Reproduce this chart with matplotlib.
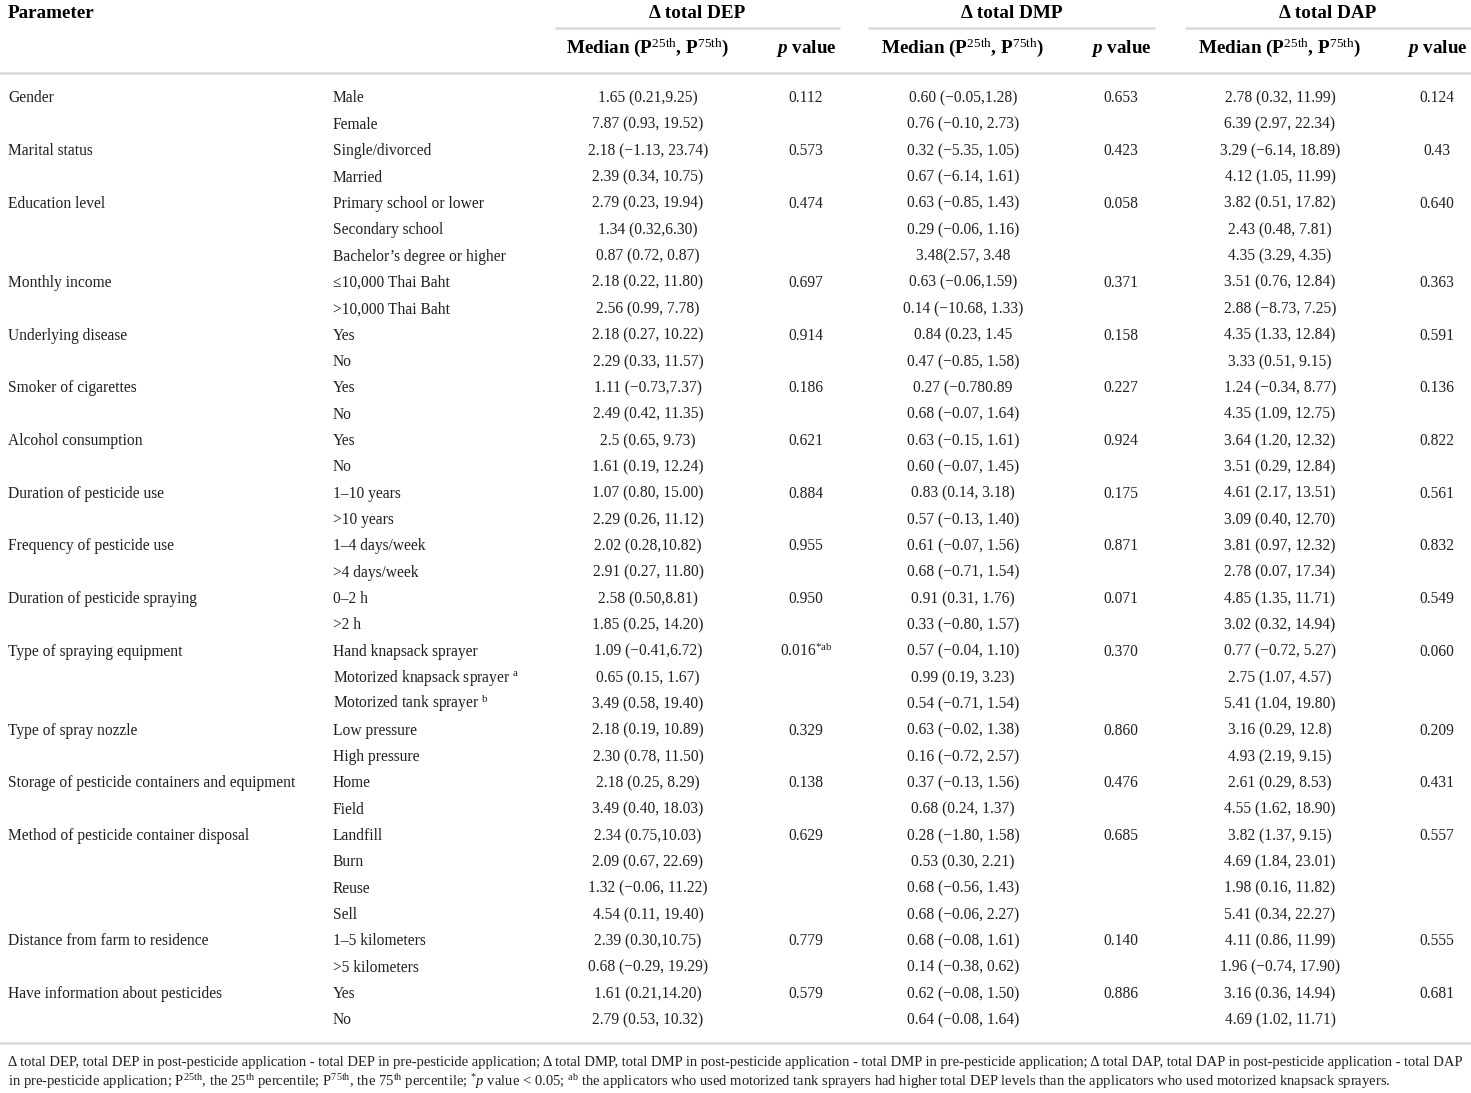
import matplotlib
matplotlib.use("Agg")
import matplotlib.pyplot as plt

plt.rcParams['font.family'] = ['Liberation Serif', 'DejaVu Serif']
plt.rcParams['mathtext.fontset'] = 'custom'
plt.rcParams['mathtext.rm'] = 'Liberation Serif'
plt.rcParams['mathtext.it'] = 'Liberation Serif:italic:bold'
plt.rcParams['mathtext.sf'] = 'Liberation Serif:italic'
plt.rcParams['mathtext.bf'] = 'Liberation Serif:bold'

# parameter group name, number of rows in group
params = [
    ("Gender", 2), ("Marital status", 2), ("Education level", 3),
    ("Monthly income", 2), ("Underlying disease", 2), ("Smoker of cigarettes", 2),
    ("Alcohol consumption", 2), ("Duration of pesticide use", 2),
    ("Frequency of pesticide use", 2), ("Duration of pesticide spraying", 2),
    ("Type of spraying equipment", 3), ("Type of spray nozzle", 2),
    ("Storage of pesticide containers and equipment", 2),
    ("Method of pesticide container disposal", 4),
    ("Distance from farm to residence", 2), ("Have information about pesticides", 2),
]

levels = [
    "Male", "Female", "Single/divorced", "Married",
    "Primary school or lower", "Secondary school", "Bachelor’s degree or higher",
    "≤10,000 Thai Baht", ">10,000 Thai Baht", "Yes", "No", "Yes", "No", "Yes", "No",
    "1–10 years", ">10 years", "1–4 days/week", ">4 days/week", "0–2 h", ">2 h",
    "Hand knapsack sprayer", "Motorized knapsack sprayer $^{\\mathrm{a}}$",
    "Motorized tank sprayer $^{\\mathrm{b}}$", "Low pressure", "High pressure",
    "Home", "Field", "Landfill", "Burn", "Reuse", "Sell",
    "1–5 kilometers", ">5 kilometers", "Yes", "No",
]

dep_median = [
    "1.65 (0.21,9.25)", "7.87 (0.93, 19.52)", "2.18 (−1.13, 23.74)", "2.39 (0.34, 10.75)",
    "2.79 (0.23, 19.94)", "1.34 (0.32,6.30)", "0.87 (0.72, 0.87)",
    "2.18 (0.22, 11.80)", "2.56 (0.99, 7.78)", "2.18 (0.27, 10.22)", "2.29 (0.33, 11.57)",
    "1.11 (−0.73,7.37)", "2.49 (0.42, 11.35)", "2.5 (0.65, 9.73)", "1.61 (0.19, 12.24)",
    "1.07 (0.80, 15.00)", "2.29 (0.26, 11.12)", "2.02 (0.28,10.82)", "2.91 (0.27, 11.80)",
    "2.58 (0.50,8.81)", "1.85 (0.25, 14.20)", "1.09 (−0.41,6.72)", "0.65 (0.15, 1.67)",
    "3.49 (0.58, 19.40)", "2.18 (0.19, 10.89)", "2.30 (0.78, 11.50)",
    "2.18 (0.25, 8.29)", "3.49 (0.40, 18.03)", "2.34 (0.75,10.03)", "2.09 (0.67, 22.69)",
    "1.32 (−0.06, 11.22)", "4.54 (0.11, 19.40)", "2.39 (0.30,10.75)", "0.68 (−0.29, 19.29)",
    "1.61 (0.21,14.20)", "2.79 (0.53, 10.32)",
]
dep_p = ["0.112", "0.573", "0.474", "0.697", "0.914", "0.186", "0.621", "0.884",
         "0.955", "0.950", "0.016$^{\\mathrm{*ab}}$", "0.329", "0.138", "0.629", "0.779", "0.579"]

dmp_median = [
    "0.60 (−0.05,1.28)", "0.76 (−0.10, 2.73)", "0.32 (−5.35, 1.05)", "0.67 (−6.14, 1.61)",
    "0.63 (−0.85, 1.43)", "0.29 (−0.06, 1.16)", "3.48(2.57, 3.48",
    "0.63 (−0.06,1.59)", "0.14 (−10.68, 1.33)", "0.84 (0.23, 1.45", "0.47 (−0.85, 1.58)",
    "0.27 (−0.780.89", "0.68 (−0.07, 1.64)", "0.63 (−0.15, 1.61)", "0.60 (−0.07, 1.45)",
    "0.83 (0.14, 3.18)", "0.57 (−0.13, 1.40)", "0.61 (−0.07, 1.56)", "0.68 (−0.71, 1.54)",
    "0.91 (0.31, 1.76)", "0.33 (−0.80, 1.57)", "0.57 (−0.04, 1.10)", "0.99 (0.19, 3.23)",
    "0.54 (−0.71, 1.54)", "0.63 (−0.02, 1.38)", "0.16 (−0.72, 2.57)",
    "0.37 (−0.13, 1.56)", "0.68 (0.24, 1.37)", "0.28 (−1.80, 1.58)", "0.53 (0.30, 2.21)",
    "0.68 (−0.56, 1.43)", "0.68 (−0.06, 2.27)", "0.68 (−0.08, 1.61)", "0.14 (−0.38, 0.62)",
    "0.62 (−0.08, 1.50)", "0.64 (−0.08, 1.64)",
]
dmp_p = ["0.653", "0.423", "0.058", "0.371", "0.158", "0.227", "0.924", "0.175",
         "0.871", "0.071", "0.370", "0.860", "0.476", "0.685", "0.140", "0.886"]

dap_median = [
    "2.78 (0.32, 11.99)", "6.39 (2.97, 22.34)", "3.29 (−6.14, 18.89)", "4.12 (1.05, 11.99)",
    "3.82 (0.51, 17.82)", "2.43 (0.48, 7.81)", "4.35 (3.29, 4.35)",
    "3.51 (0.76, 12.84)", "2.88 (−8.73, 7.25)", "4.35 (1.33, 12.84)", "3.33 (0.51, 9.15)",
    "1.24 (−0.34, 8.77)", "4.35 (1.09, 12.75)", "3.64 (1.20, 12.32)", "3.51 (0.29, 12.84)",
    "4.61 (2.17, 13.51)", "3.09 (0.40, 12.70)", "3.81 (0.97, 12.32)", "2.78 (0.07, 17.34)",
    "4.85 (1.35, 11.71)", "3.02 (0.32, 14.94)", "0.77 (−0.72, 5.27)", "2.75 (1.07, 4.57)",
    "5.41 (1.04, 19.80)", "3.16 (0.29, 12.8)", "4.93 (2.19, 9.15)",
    "2.61 (0.29, 8.53)", "4.55 (1.62, 18.90)", "3.82 (1.37, 9.15)", "4.69 (1.84, 23.01)",
    "1.98 (0.16, 11.82)", "5.41 (0.34, 22.27)", "4.11 (0.86, 11.99)", "1.96 (−0.74, 17.90)",
    "3.16 (0.36, 14.94)", "4.69 (1.02, 11.71)",
]
dap_p = ["0.124", "0.43", "0.640", "0.363", "0.591", "0.136", "0.822", "0.561",
         "0.832", "0.549", "0.060", "0.209", "0.431", "0.557", "0.555", "0.681"]

groups = ["Δ total DEP", "Δ total DMP", "Δ total DAP"]
footnote = [
    "Δ total DEP, total DEP in post-pesticide application - total DEP in pre-pesticide application; "
    "Δ total DMP, total DMP in post-pesticide application - total DMP in pre-pesticide application; "
    "Δ total DAP, total DAP in post-pesticide application - total DAP",
    "in pre-pesticide application; P$^{\\mathrm{25th}}$, the 25$^{\\mathrm{th}}$ percentile; "
    "P$^{\\mathrm{75th}}$, the 75$^{\\mathrm{th}}$ percentile; $^{*}\\mathsf{p}$ value < 0.05; "
    "$^{\\mathrm{ab}}$ the applicators who used motorized tank sprayers had higher total DEP "
    "levels than the applicators who used motorized knapsack sprayers.",
]

W, H = 1471, 1093
fig = plt.figure(figsize=(W / 100, H / 100), dpi=100)
ax = fig.add_axes([0, 0, 1, 1])
ax.set_xlim(0, W)
ax.set_ylim(H, 0)
ax.axis('off')

txt = '#231f20'
line_c = '#d9d9d9'
body_fs = 11.2
head_fs = 13.8

# header
ax.text(8, 18, "Parameter", fontsize=head_fs, fontweight='bold', va='baseline', color='black')
med_x = [648, 963, 1280]
p_x = [806, 1121, 1437]
spans = [(555, 840), (868, 1155), (1185, 1471)]
for g, mx, px, (s0, s1) in zip(groups, med_x, p_x, spans):
    ax.text((s0 + s1) / 2, 18, g, fontsize=head_fs, fontweight='bold', ha='center', va='baseline', color='black')
    ax.plot([s0, s1], [28, 28], color=line_c, lw=1.8, solid_capstyle='butt')
    ax.text(mx, 53, "Median (P$^{\\mathrm{25th}}$, P$^{\\mathrm{75th}}$)", fontsize=head_fs,
            fontweight='bold', ha='center', va='baseline', color='black')
    ax.text(px, 53, "$\\mathit{p}$ value", fontsize=head_fs, fontweight='bold',
            ha='center', va='baseline', color='black')
ax.plot([0, W], [73, 73], color=line_c, lw=1.8)
ax.plot([0, W], [1043, 1043], color=line_c, lw=1.8)

# body (baseline aligned)
y0, dy, base = 98, 26.34, 4.5
row = 0
for gi, (name, n) in enumerate(params):
    y = y0 + row * dy + base
    ax.text(8, y, name, fontsize=body_fs, va='baseline', color=txt)
    for cx, pv in zip(p_x, [dep_p[gi], dmp_p[gi], dap_p[gi]]):
        ax.text(cx, y, pv, fontsize=body_fs, ha='center', va='baseline', color=txt)
    row += n

for i, lev in enumerate(levels):
    y = y0 + i * dy + base
    ax.text(333, y, lev, fontsize=body_fs, va='baseline', color=txt)
    for cx, col in zip(med_x, [dep_median, dmp_median, dap_median]):
        ax.text(cx, y, col[i], fontsize=body_fs, ha='center', va='baseline', color=txt)

# footnote
ax.text(8, 1066, footnote[0], fontsize=10.5, va='baseline', color=txt)
ax.text(8, 1086, footnote[1], fontsize=10.5, va='baseline', color=txt)

fig.savefig('out.png', dpi=100)
